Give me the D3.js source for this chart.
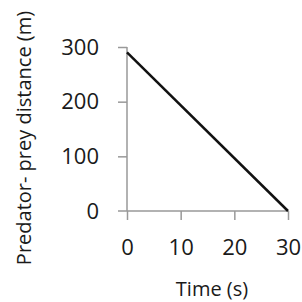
<!DOCTYPE html>
<html>
<head>
<meta charset="utf-8">
<script src="https://cdnjs.cloudflare.com/ajax/libs/d3/7.8.5/d3.min.js"></script>
<style>
  body { margin: 0; background: #fff; }
  svg text { font-family: "Open Sans", "Liberation Sans", sans-serif; fill: #1a1a1a; }
</style>
</head>
<body>
<svg class="chart"></svg>
<script>
var time = [0, 30];
var distance = [290, 0];
var xTicks = [0, 10, 20, 30];
var yTicks = [0, 100, 200, 300];

var width = 302, height = 302;
var svg = d3.select(".chart").attr("width", width).attr("height", height);

var x = d3.scaleLinear().domain([0, 30]).range([127, 288]);
var y = d3.scaleLinear().domain([0, 300]).range([211, 47]);

// axes, drawn grey like the original
var xAxis = svg.append("g")
    .attr("transform", "translate(0," + y(0) + ")")
    .call(d3.axisBottom(x).tickValues(xTicks).tickSize(9).tickPadding(15));
var yAxis = svg.append("g")
    .attr("transform", "translate(" + x(0) + ",0)")
    .call(d3.axisLeft(y).tickValues(yTicks).tickSize(9).tickPadding(19));

[xAxis, yAxis].forEach(function(a){
    a.select(".domain").attr("stroke", "#999").attr("stroke-width", 1.5);
    a.selectAll(".tick line").attr("stroke", "#999").attr("stroke-width", 1.5);
    a.selectAll(".tick text").attr("font-size", "22px").attr("fill", "#1a1a1a")
        .attr("font-family", "'Open Sans', sans-serif");
});
// horizontal axis starts at the left end of the zero tick
xAxis.select(".domain").attr("d", "M" + (x(0) - 9) + ",0H" + x(30));
yAxis.select(".domain").attr("d", "M0," + y(0) + "V" + y(300));
yAxis.selectAll(".tick").filter(function(d){ return d === 0; }).select("line").remove();
xAxis.selectAll(".tick text").attr("dy", "0.9em");

var line = d3.line()
    .x(function(d){ return x(d[0]); })
    .y(function(d){ return y(d[1]); });

svg.append("path")
    .datum(d3.zip(time, distance))
    .attr("d", line)
    .attr("fill", "none")
    .attr("stroke", "#111")
    .attr("stroke-width", 2.5);

svg.append("text")
    .attr("x", 212).attr("y", 296)
    .attr("text-anchor", "middle")
    .attr("font-size", "20px")
    .text("Time (s)");

svg.append("text")
    .attr("transform", "translate(31,138) rotate(-90)")
    .attr("text-anchor", "middle")
    .attr("font-size", "20px")
    .text("Predator- prey distance (m)");
</script>
</body>
</html>
